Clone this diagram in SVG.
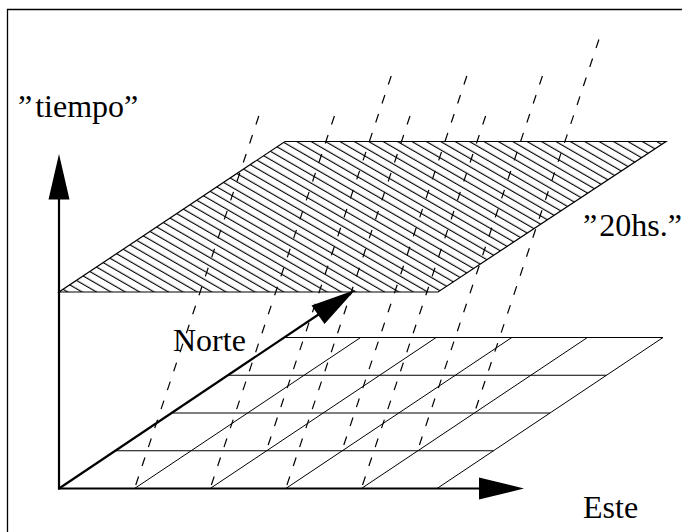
<svg xmlns="http://www.w3.org/2000/svg" width="682" height="532" viewBox="0 0 682 532">
<style>
.t{font-family:"Liberation Serif","DejaVu Serif","Times New Roman",serif;font-size:32px;fill:#000}
.thin{stroke:#000;stroke-width:1;fill:none}
.thick{stroke:#000;stroke-width:2.2;fill:none}
.dash{stroke:#000;stroke-width:1.2;fill:none;stroke-dasharray:9 11}
.head{fill:#000;stroke:none}
</style>
<defs>
<pattern id="hatch" patternUnits="userSpaceOnUse" width="40" height="7.2" patternTransform="rotate(30)">
<line x1="0" y1="3" x2="40" y2="3" stroke="#000" stroke-width="1.1"/>
</pattern>
</defs>
<rect x="0" y="0" width="682" height="532" fill="#fff"/>
<g id="frame">
<path d="M7.5,532 V9.5 H682" stroke="#000" stroke-width="1.3" fill="none"/>
</g>
<g id="plane-20hs">
<polygon points="59,292 438,292 666,141.5 285,141.5" fill="url(#hatch)" stroke="#000" stroke-width="1.2"/>
</g>
<g id="grid">
<path class="thin" d="M115.5,450.75 H493.5 M172,413 H550 M228.5,375.25 H606.5 M285,337.5 H663"/>
<path class="thin" d="M134.6,488.5 L360.6,337.5 M210.2,488.5 L436.2,337.5 M285.8,488.5 L511.8,337.5 M361.4,488.5 L587.4,337.5 M437,488.5 L663,337.5"/>
</g>
<g id="connectors">
<path class="dash" d="M258.8,116 L134.6,488.5"/>
<path class="dash" d="M334.4,116 L210.2,488.5"/>
<path class="dash" d="M410,116 L285.8,488.5"/>
<path class="dash" d="M485.6,116 L361.4,488.5"/>
<path class="dash" d="M391.2,76 L266.3,450.75"/>
<path class="dash" d="M466.8,76 L341.9,450.75"/>
<path class="dash" d="M542.4,76 L417.5,450.75"/>
<path class="dash" d="M598.9,39.5 L474.4,413"/>
</g>
<g id="axis-tiempo">
<line class="thick" x1="59" y1="489.5" x2="59" y2="198"/>
<polygon class="head" points="59,154 48.5,199.5 69.5,199.5"/>
</g>
<g id="axis-este">
<line class="thick" x1="58" y1="488.5" x2="481" y2="488.5"/>
<polygon class="head" points="524,488.5 479,477.5 479,499.5"/>
</g>
<g id="axis-norte">
<line class="thick" x1="59" y1="488.5" x2="320" y2="313.5"/>
<polygon class="head" points="355,290 311.5,305.5 324.5,324"/>
</g>
<g id="labels" font-family="Liberation Serif, DejaVu Serif, serif">
<text class="t" x="18" y="117">”<tspan dx="3">tiempo”</tspan></text>
<text class="t" x="173" y="350.5">Norte</text>
<text class="t" x="583" y="236">”<tspan dx="2">20hs.”</tspan></text>
<text class="t" x="583" y="518">Este</text>
</g>
</svg>
